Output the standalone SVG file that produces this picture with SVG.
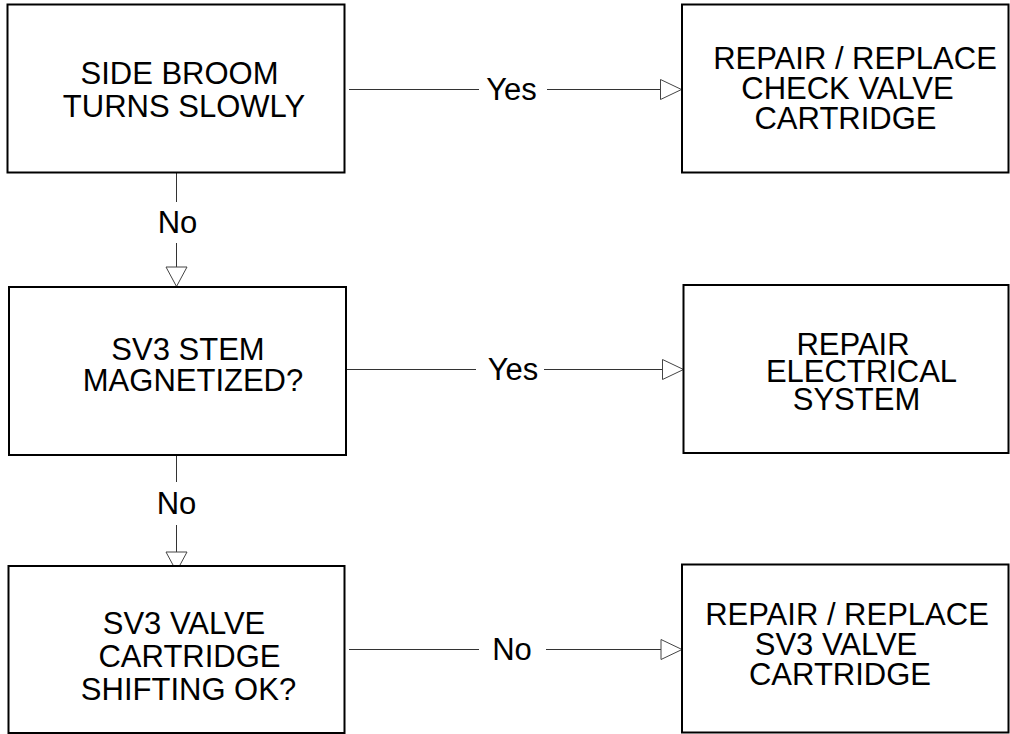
<svg xmlns="http://www.w3.org/2000/svg" width="1010" height="734" viewBox="0 0 1010 734">
<style>
.box{fill:#fff;stroke:#000;stroke-width:2}
.t{font-family:"Liberation Sans",Arial,sans-serif;font-size:31px;fill:#000;text-anchor:middle}
.ln{stroke:#333;stroke-width:1;fill:none}
.ah{fill:#fff;stroke:#444;stroke-width:1}
</style>
<rect width="1010" height="734" fill="#fff"/>
<g id="connectors">
<line class="ln" x1="176.5" y1="173" x2="176.5" y2="202"/>
<line class="ln" x1="176.5" y1="243" x2="176.5" y2="267"/>
<polygon class="ah" points="166,267 187,267 176.5,286.5"/>
<text class="t" x="177.5" y="232.5">No</text>
<line class="ln" x1="176.5" y1="455" x2="176.5" y2="482"/>
<line class="ln" x1="176.5" y1="525" x2="176.5" y2="552"/>
<polygon class="ah" points="166,552 187,552 176.5,571.5"/>
<text class="t" x="176.5" y="514">No</text>
<line class="ln" x1="349" y1="89.5" x2="479" y2="89.5"/>
<line class="ln" x1="547" y1="89.5" x2="660.5" y2="89.5"/>
<polygon class="ah" points="660.5,79.5 660.5,99.5 681.5,89.5"/>
<text class="t" x="511.5" y="100">Yes</text>
<line class="ln" x1="347" y1="369.5" x2="476" y2="369.5"/>
<line class="ln" x1="544" y1="369.5" x2="662.5" y2="369.5"/>
<polygon class="ah" points="662.5,359.5 662.5,379.5 683.5,369.5"/>
<text class="t" x="513" y="380">Yes</text>
<line class="ln" x1="349" y1="649.5" x2="479" y2="649.5"/>
<line class="ln" x1="546" y1="649.5" x2="661" y2="649.5"/>
<polygon class="ah" points="661,639.5 661,659.5 682,649.5"/>
<text class="t" x="512" y="660">No</text>
</g>
<g id="n1">
<rect class="box" x="7.5" y="4.5" width="337" height="168"/>
<text class="t" x="179.5" y="84">SIDE BROOM</text>
<text class="t" x="184" y="116.5">TURNS SLOWLY</text>
</g>
<g id="n2">
<rect class="box" x="9" y="287" width="337" height="168"/>
<text class="t" x="188" y="359.5">SV3 STEM</text>
<text class="t" x="193" y="390.5">MAGNETIZED?</text>
</g>
<g id="n3">
<rect class="box" x="8.5" y="566" width="336" height="167"/>
<text class="t" x="184" y="634">SV3 VALVE</text>
<text class="t" x="189.5" y="666.5">CARTRIDGE</text>
<text class="t" x="188.5" y="700">SHIFTING OK?</text>
</g>
<g id="r1">
<rect class="box" x="682" y="4.5" width="326.5" height="168"/>
<text class="t" x="855" y="68.5">REPAIR / REPLACE</text>
<text class="t" x="847.5" y="98.5">CHECK VALVE</text>
<text class="t" x="845.5" y="128.5">CARTRIDGE</text>
</g>
<g id="r2">
<rect class="box" x="683.5" y="285" width="325" height="168"/>
<text class="t" x="853" y="355">REPAIR</text>
<text class="t" x="861.5" y="382">ELECTRICAL</text>
<text class="t" x="856.5" y="410">SYSTEM</text>
</g>
<g id="r3">
<rect class="box" x="682" y="564.5" width="326.5" height="168"/>
<text class="t" x="847" y="624.5">REPAIR / REPLACE</text>
<text class="t" x="836" y="654.5">SV3 VALVE</text>
<text class="t" x="840" y="684.5">CARTRIDGE</text>
</g>
</svg>
